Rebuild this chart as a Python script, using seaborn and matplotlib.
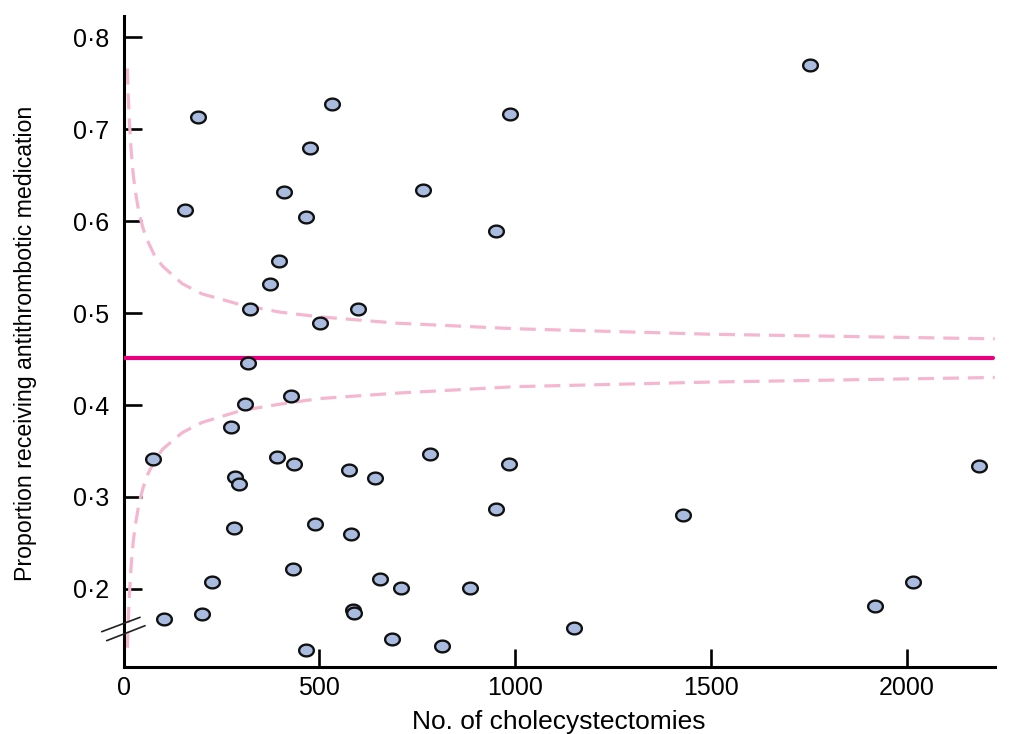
import numpy as np
import pandas as pd
import matplotlib
matplotlib.use("Agg")
import matplotlib.pyplot as plt
from matplotlib.path import Path
import seaborn as sns

# ---- data ----
cases = [75, 103, 157, 190, 200, 226, 275, 285, 295, 282, 310, 318, 323, 374, 397,
         410, 392, 428, 435, 433, 467, 477, 466, 488, 502, 533, 576, 581, 586, 589,
         599, 642, 655, 685, 709, 765, 783, 813, 885, 952, 952, 985, 987, 1150, 1429,
         1753, 1919, 2016, 2185]
proportion = [0.341, 0.167, 0.612, 0.713, 0.173, 0.208, 0.376, 0.322, 0.314, 0.266,
              0.401, 0.446, 0.505, 0.532, 0.557, 0.632, 0.344, 0.410, 0.336, 0.222,
              0.604, 0.680, 0.134, 0.271, 0.489, 0.727, 0.329, 0.260, 0.177, 0.174,
              0.505, 0.321, 0.211, 0.146, 0.201, 0.634, 0.347, 0.138, 0.201, 0.589,
              0.287, 0.336, 0.717, 0.157, 0.280, 0.770, 0.181, 0.207, 0.334]
mean_prop = 0.451
limit_n = [10, 12, 15, 20, 25, 30, 40, 50, 60, 80, 100, 150, 200, 300, 400, 500,
           700, 1000, 1500, 2225]
upper_limit = [0.766, 0.738, 0.708, 0.674, 0.650, 0.633, 0.608, 0.592, 0.580, 0.562,
               0.551, 0.532, 0.521, 0.509, 0.501, 0.496, 0.489, 0.483, 0.477, 0.472]
lower_limit = [0.136, 0.164, 0.194, 0.228, 0.252, 0.269, 0.294, 0.310, 0.323, 0.340,
               0.352, 0.370, 0.381, 0.394, 0.401, 0.407, 0.413, 0.420, 0.425, 0.430]
x_ticks = [0, 500, 1000, 1500, 2000]
y_ticks = [0.2, 0.3, 0.4, 0.5, 0.6, 0.7, 0.8]
y_tick_labels = ["0·2", "0·3", "0·4", "0·5", "0·6", "0·7", "0·8"]
x_label = "No. of cholecystectomies"
y_label = "Proportion receiving antithrombotic medication"

sns.set_style("ticks")
plt.rcParams["font.family"] = ["Liberation Sans", "DejaVu Sans"]

fig = plt.figure(figsize=(10.14, 7.34), dpi=100)
ax = fig.add_axes([0.1218, 0.0917, 0.981 - 0.1218, 0.978 - 0.0917])

xmax = 2225
ax.set_xlim(0, xmax)
ax.set_ylim(0.1154, 0.823)

pts = pd.DataFrame({"n": cases, "p": proportion})
lim = pd.DataFrame({"n": limit_n, "up": upper_limit, "lo": lower_limit})

pink = "#f5b6cf"
sns.lineplot(data=lim, x="n", y="up", ax=ax, color=pink, lw=2.3, zorder=2)
ax.lines[-1].set_dashes((5.0, 2.8))
sns.lineplot(data=lim, x="n", y="lo", ax=ax, color=pink, lw=2.3, zorder=2)
ax.lines[-1].set_dashes((5.0, 2.8))
ml = pd.DataFrame({"n": [0, xmax * 0.9985], "p": [mean_prop, mean_prop]})
sns.lineplot(data=ml, x="n", y="p", ax=ax, color="#e8007f", lw=3.0, zorder=3)

theta = np.linspace(0, 2 * np.pi, 60)
ell = Path(np.column_stack([np.cos(theta), 0.8 * np.sin(theta)]), closed=True)
sns.scatterplot(data=pts, x="n", y="p", ax=ax, marker=ell, s=112,
                color="#a9bcdf", edgecolor="#111111", linewidth=1.7, zorder=4)

ax.set_xticks(x_ticks)
ax.set_xticklabels([str(t) for t in x_ticks])
ax.set_yticks(y_ticks)
ax.set_yticklabels(y_tick_labels)
ax.tick_params(direction="in", length=13, width=1.9, labelsize=18,
               colors="black")
ax.tick_params(axis="x", pad=7)
ax.tick_params(axis="y", pad=10)
for s in ["top", "right"]:
    ax.spines[s].set_visible(False)
for s in ["left", "bottom"]:
    ax.spines[s].set_linewidth(2.2)
    ax.spines[s].set_color("black")

ax.set_xlabel(x_label, fontsize=19, color="black")
ax.set_ylabel(y_label, fontsize=16.7, color="black")
ax.xaxis.set_label_coords(0.5, -0.066)
ax.yaxis.set_label_coords(-0.099, 0.497)

# axis break marks on the y axis
ax.plot([-0.025, 0.019], [0.0538, 0.0759], transform=ax.transAxes,
        color="#222222", lw=1.2, clip_on=False, zorder=5)
ax.plot([-0.0193, 0.0247], [0.040, 0.063], transform=ax.transAxes,
        color="#222222", lw=1.2, clip_on=False, zorder=5)

fig.savefig("out.png", dpi=100, facecolor="white")
